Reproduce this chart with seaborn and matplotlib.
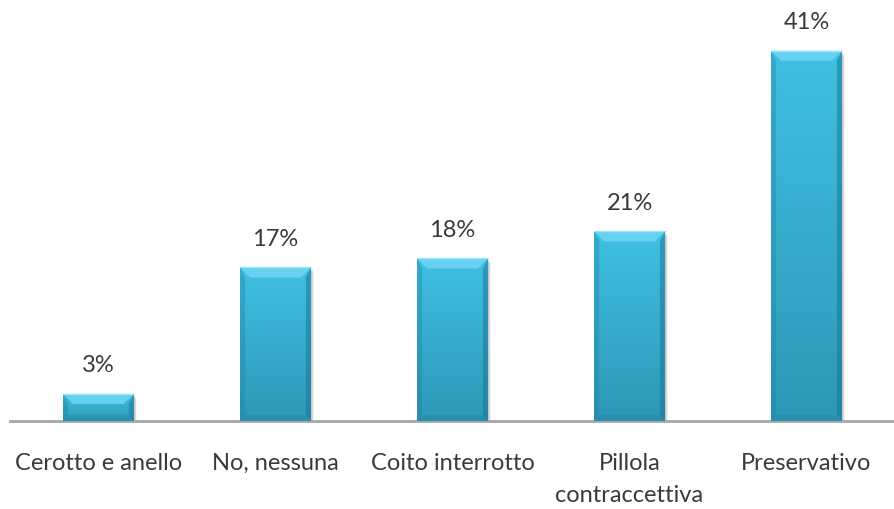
import numpy as np
import pandas as pd
import matplotlib
matplotlib.use("Agg")
import matplotlib.pyplot as plt
from matplotlib.patches import Polygon, Rectangle
from matplotlib.colors import LinearSegmentedColormap
import seaborn as sns

categories = ["Cerotto e anello", "No, nessuna", "Coito interrotto",
              "Pillola\ncontraccettiva", "Preservativo"]
values = [3, 17, 18, 21, 41]
value_labels = ["3%", "17%", "18%", "21%", "41%"]

sns.set_theme(style="white")
plt.rcParams["font.family"] = ["Lato", "DejaVu Sans"]

df = pd.DataFrame({"metodo": categories, "quota": values})

W, H = 895, 510
fig = plt.figure(figsize=(W / 100, H / 100), dpi=100)
ax = fig.add_axes([10 / W, 88 / H, 885 / W, 422 / H])

sns.barplot(data=df, x="metodo", y="quota", color="#3bb5d8", width=0.4,
            saturation=1, ax=ax, zorder=2)

YMAX = 422 / 9.03
ax.set_xlim(-0.5, 4.5)
ax.set_ylim(0, YMAX)

# one pixel expressed in data units
px_x = 5.0 / 885
px_y = YMAX / 422

grad = LinearSegmentedColormap.from_list("bar", ["#2d98b7", "#40c0e3"])
for p in ax.patches:
    x0, y0 = p.get_x(), p.get_y()
    w, h = p.get_width(), p.get_height()
    x1, y1 = x0 + w, y0 + h
    # soft drop shadow
    for k, a in [(5, 0.04), (4, 0.05), (3, 0.07), (2, 0.08)]:
        ax.add_patch(Rectangle((x0 + k * px_x * 0.6, y0 - k * px_y), w, h,
                               facecolor="black", alpha=a, lw=0, zorder=1))
    p.set_facecolor("none")
    p.set_edgecolor("none")
    img = ax.imshow(np.linspace(0, 1, 64).reshape(-1, 1), cmap=grad,
                    origin="lower", extent=(x0, x1, y0, y1),
                    aspect="auto", zorder=3)
    img.set_clip_path(Rectangle((x0, y0), w, h, transform=ax.transData))
    bx = 10 * px_x
    by = min(10 * px_y, h / 2)
    bb = min(6 * px_y, h / 3)
    sx = 5 * px_x
    faces = [
        # sides: subtle darkening
        ([(x0, y0), (x0, y1), (x0 + sx, y1 - by), (x0 + sx, y0 + bb)], "#1f7f9b", 0.35),
        ([(x1, y0), (x1, y1), (x1 - sx, y1 - by), (x1 - sx, y0 + bb)], "#1a7390", 0.5),
        ([(x0, y0), (x1, y0), (x1 - sx, y0 + bb), (x0 + sx, y0 + bb)], "#1f7f9b", 0.3),
        # top: bright bevel
        ([(x0, y1), (x1, y1), (x1 - bx, y1 - by), (x0 + bx, y1 - by)], "#6ad4f0", 0.95),
    ]
    for pts, c, a in faces:
        ax.add_patch(Polygon(pts, closed=True, facecolor=c, edgecolor="none",
                             alpha=a, zorder=4))
    ax.plot([x0, x1], [y1, y1], color="#9be6f8", lw=1, zorder=5)

for i, (v, lab) in enumerate(zip(values, value_labels)):
    ax.annotate(lab, (i, v), xytext=(0, 29), textcoords="offset pixels",
                ha="center", va="center", fontsize=17, color="#3a3a3a")

ax.set_xlabel("")
ax.set_ylabel("")
ax.set_yticks([])
ax.tick_params(axis="x", length=0, pad=22, labelsize=17, labelcolor="#3a3a3a")
for lbl in ax.get_xticklabels():
    lbl.set_verticalalignment("top")
    lbl.set_linespacing(1.65)
for s in ["top", "right", "left"]:
    ax.spines[s].set_visible(False)
ax.spines["bottom"].set_color("#a6a6a6")
ax.spines["bottom"].set_linewidth(2)

fig.savefig("out.png", dpi=100)
